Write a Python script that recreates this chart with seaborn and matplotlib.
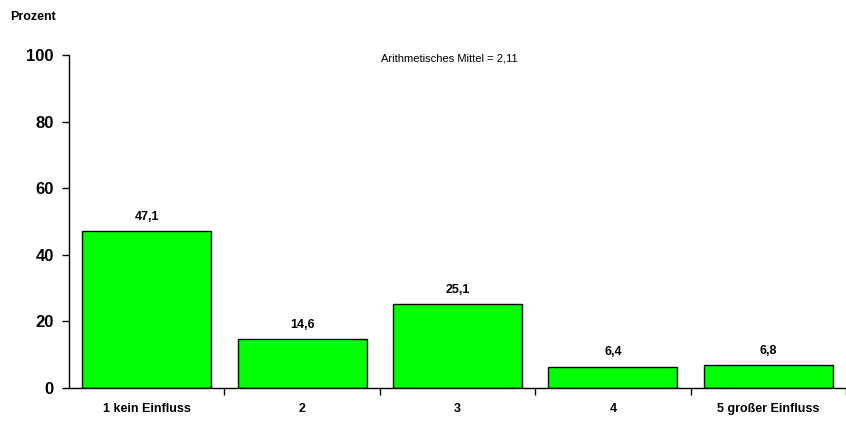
import matplotlib
matplotlib.use("Agg")
import matplotlib.pyplot as plt
import seaborn as sns
import pandas as pd

categories = ["1 kein Einfluss", "2", "3", "4", "5 großer Einfluss"]
percent = [47.1, 14.6, 25.1, 6.4, 6.8]
y_ticks = [0, 20, 40, 60, 80, 100]
mean_text = "Arithmetisches Mittel = 2,11"

sns.set_style("white")
plt.rcParams["font.family"] = ["Liberation Sans", "DejaVu Sans"]
plt.rcParams["text.color"] = "black"
plt.rcParams["xtick.color"] = "black"
plt.rcParams["ytick.color"] = "black"
plt.rcParams["xtick.bottom"] = True
plt.rcParams["ytick.left"] = True

df = pd.DataFrame({"Kategorie": categories, "Prozent": percent})

fig = plt.figure(figsize=(8.46, 4.23), dpi=100)
ax = fig.add_axes([0.0816, 0.083, 0.9184, 0.787])

sns.barplot(data=df, x="Kategorie", y="Prozent", color="#00FF00",
            saturation=1, width=0.83, edgecolor="black", linewidth=1, ax=ax)

ax.set_xlim(-0.5, 4.5)
ax.set_ylim(0, 100)
ax.set_yticks(y_ticks)
ax.set_yticklabels([str(t) for t in y_ticks], fontsize=12, fontweight="bold")

# category labels centred, ticks at the boundaries
ax.set_xticks(range(len(categories)))
ax.set_xticklabels(categories, fontsize=9, fontweight="bold")
ax.tick_params(axis="x", which="major", length=0, pad=11)
ax.set_xticks([i + 0.5 for i in range(len(categories))], minor=True)
ax.tick_params(axis="x", which="minor", bottom=True, length=5, width=1,
               direction="out", color="black")
ax.tick_params(axis="y", length=5, width=1, direction="out", color="black",
               left=True, pad=6)

for side in ["top", "right"]:
    ax.spines[side].set_visible(False)
for side in ["left", "bottom"]:
    ax.spines[side].set_color("black")
    ax.spines[side].set_linewidth(1)

ax.set_xlabel("")
ax.set_ylabel("")

for i, v in enumerate(percent):
    ax.text(i, v + 2.5, f"{v:.1f}".replace(".", ","), ha="center", va="bottom",
            fontsize=9, fontweight="bold")

fig.text(10 / 846, 1 - 17 / 423, "Prozent", ha="left", va="center",
         fontsize=9, fontweight="bold")
ax.text(1.95, 99, mean_text, ha="center", va="center", fontsize=8)

fig.savefig("out.png", dpi=100)
